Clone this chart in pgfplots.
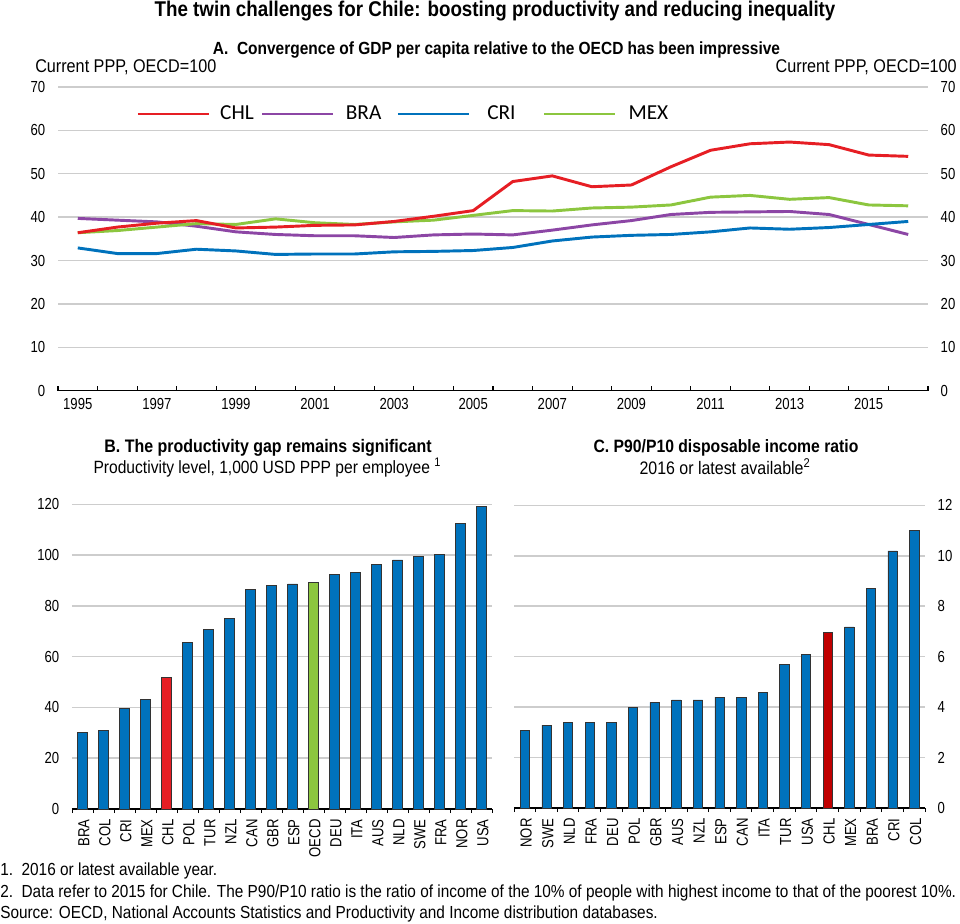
\documentclass[border=0pt]{standalone}
\usepackage{fontspec}
\setmainfont{Liberation Sans}[FakeStretch=0.82]
\newfontfamily\txt{Liberation Sans}[FakeStretch=0.88]
\newfontfamily\legfont{Carlito}
\usepackage{pgfplots}
\pgfplotsset{compat=1.18}
\definecolor{barblue}{RGB}{0,114,188}
\definecolor{chlred}{RGB}{230,30,36}
\definecolor{chldark}{RGB}{192,0,0}
\definecolor{oecdgreen}{RGB}{140,198,63}
\definecolor{brapurple}{RGB}{140,70,165}
\definecolor{gridgray}{RGB}{205,205,205}
\pgfplotsset{
  every axis/.append style={
    /pgf/number format/assume math mode=true,
    scale only axis,
    anchor=south west,
    ticklabel style={font=\fontsize{12}{14}\selectfont},
    grid style={gridgray, line width=1.1pt},
    axis line style={-},
    clip=false,
  },
}
\begin{document}
\begin{tikzpicture}
\useasboundingbox (0,0) rectangle (720pt,-693pt);
% titles
\node[anchor=base, inner sep=0pt, font=\txt\bfseries\fontsize{16}{18}\selectfont] at (371.25pt,-12.75pt) {The twin challenges for Chile: boosting productivity and reducing inequality};
\node[anchor=base, inner sep=0pt, font=\txt\bfseries\fontsize{13.2}{15}\selectfont] at (372.4pt,-41.25pt) {A.\ \ Convergence of GDP per capita relative to the OECD has been impressive};
\node[anchor=base west, inner sep=0pt, font=\txt\fontsize{13.8}{15}\selectfont] at (26.25pt,-54.2pt) {Current PPP, OECD=100};
\node[anchor=base east, inner sep=0pt, font=\txt\fontsize{13.8}{15}\selectfont] at (717.75pt,-54.2pt) {Current PPP, OECD=100};

% Panel A
\begin{axis}[
  at={(43.5pt,-293pt)}, width=652.5pt, height=227.8pt,
  xmin=1995, xmax=2017, ymin=0, ymax=70,
  axis x line*=bottom, axis y line*=left,
  y axis line style={draw=none},
  x axis line style={line width=1pt},
  ytick={0,10,...,70}, ymajorgrids,
  ytick style={draw=none},
  yticklabel style={xshift=-6pt},
  xtick={1995.5,1997.5,1999.5,2001.5,2003.5,2005.5,2007.5,2009.5,2011.5,2013.5,2015.5},
  xticklabels={1995,1997,1999,2001,2003,2005,2007,2009,2011,2013,2015},
  major x tick style={draw=none},
  minor xtick={1995,1996,...,2017},
  minor x tick style={black, line width=0.8pt},
  minor tick length=3.75pt, tick align=inside,
  xticklabel style={yshift=-2pt},
  legend style={draw=none, fill=none, inner sep=0pt, at={(0.0897,0.911)}, anchor=west,
    font=\legfont\fontsize{16}{18}\selectfont,
    nodes={inner sep=0pt},
    /tikz/every odd column/.append style={column sep=7.5pt},
    /tikz/every even column/.append style={column sep=5.25pt}},
  legend columns=4,
  legend image code/.code={\draw[#1] (0pt,0pt) -- (53.25pt,0pt);},
  every axis plot/.append style={line width=2.2pt},
]
\addlegendimage{chlred, line width=2.2pt}
\addlegendentry{CHL}
\addlegendimage{brapurple, line width=2.2pt}
\addlegendentry{\hspace*{0.75pt}BRA\hspace*{6pt}}
\addlegendimage{barblue, line width=2.2pt}
\addlegendentry{\hspace*{5.25pt}CRI\hspace*{15pt}}
\addlegendimage{oecdgreen, line width=2.2pt}
\addlegendentry{\hspace*{1.5pt}MEX}
\addplot[brapurple, forget plot] coordinates {(1995.5,39.7)(1996.5,39.3)(1997.5,38.9)(1998.5,37.9)(1999.5,36.6)(2000.5,36.0)(2001.5,35.7)(2002.5,35.7)(2003.5,35.3)(2004.5,35.9)(2005.5,36.1)(2006.5,35.9)(2007.5,37.0)(2008.5,38.2)(2009.5,39.2)(2010.5,40.6)(2011.5,41.1)(2012.5,41.2)(2013.5,41.3)(2014.5,40.6)(2015.5,38.3)(2016.5,36.0)};
\addplot[barblue, forget plot] coordinates {(1995.5,32.9)(1996.5,31.6)(1997.5,31.6)(1998.5,32.6)(1999.5,32.2)(2000.5,31.4)(2001.5,31.5)(2002.5,31.5)(2003.5,32.0)(2004.5,32.1)(2005.5,32.3)(2006.5,33.0)(2007.5,34.5)(2008.5,35.4)(2009.5,35.8)(2010.5,36.0)(2011.5,36.6)(2012.5,37.5)(2013.5,37.2)(2014.5,37.6)(2015.5,38.3)(2016.5,39.0)};
\addplot[oecdgreen, forget plot] coordinates {(1995.5,36.4)(1996.5,36.9)(1997.5,37.7)(1998.5,38.5)(1999.5,38.3)(2000.5,39.6)(2001.5,38.7)(2002.5,38.3)(2003.5,38.9)(2004.5,39.3)(2005.5,40.4)(2006.5,41.5)(2007.5,41.4)(2008.5,42.1)(2009.5,42.3)(2010.5,42.8)(2011.5,44.6)(2012.5,45.0)(2013.5,44.1)(2014.5,44.5)(2015.5,42.8)(2016.5,42.6)};
\addplot[chlred, forget plot] coordinates {(1995.5,36.4)(1996.5,37.7)(1997.5,38.6)(1998.5,39.2)(1999.5,37.5)(2000.5,37.7)(2001.5,38.1)(2002.5,38.2)(2003.5,39.0)(2004.5,40.2)(2005.5,41.5)(2006.5,48.2)(2007.5,49.5)(2008.5,47.0)(2009.5,47.4)(2010.5,51.6)(2011.5,55.4)(2012.5,56.9)(2013.5,57.3)(2014.5,56.7)(2015.5,54.3)(2016.5,54.0)};
\end{axis}
\begin{axis}[
  at={(43.5pt,-293pt)}, width=652.5pt, height=227.8pt,
  xmin=1995, xmax=2017, ymin=0, ymax=70,
  axis y line*=right, axis x line=none,
  y axis line style={draw=none}, ytick style={draw=none},
  ytick={0,10,...,70}, yticklabel style={xshift=6pt},
]
\addplot[draw=none] coordinates {(1996,0)};
\end{axis}

% Panel B
\node[anchor=base, inner sep=0pt, font=\txt\bfseries\fontsize{13.6}{15}\selectfont] at (201pt,-339pt) {B. The productivity gap remains significant};
\node[anchor=base, inner sep=0pt, font=\txt\fontsize{13.3}{15}\selectfont] at (200.5pt,-355pt) {Productivity level, 1,000 USD PPP per employee \textsuperscript{1}};
\begin{axis}[
  at={(54pt,-606.75pt)}, width=315pt, height=228.5pt,
  xmin=-0.5, xmax=19.5, ymin=0, ymax=120,
  axis x line*=bottom, axis y line*=left,
  y axis line style={draw=none},
  x axis line style={line width=1pt},
  ytick={0,20,...,120}, ymajorgrids, ytick style={draw=none},
  yticklabel style={xshift=-6pt},
  xtick={0,...,19},
  xticklabels={BRA,COL,CRI,MEX,CHL,POL,TUR,NZL,CAN,GBR,ESP,OECD,DEU,ITA,AUS,NLD,SWE,FRA,NOR,USA},
  xticklabel style={rotate=90, anchor=east, xshift=0pt, yshift=-1pt},
  major x tick style={draw=none},
  minor xtick={-0.5,0.5,...,19.5},
  minor x tick style={black, line width=0.7pt},
  minor tick length=3pt, tick align=inside,
  ybar, bar width=7.5pt,
]
\addplot[fill=barblue, draw=black!80, line width=0.4pt, bar shift=0pt] coordinates {(0,30.1)(1,31.0)(2,39.5)(3,43.1)(5,65.6)(6,70.8)(7,75.0)(8,86.4)(9,88.1)(10,88.7)(12,92.3)(13,93.1)(14,96.4)(15,98.1)(16,99.5)(17,100.4)(18,112.4)(19,119.3)};
\addplot[fill=chlred, draw=black!80, line width=0.4pt, bar shift=0pt] coordinates {(4,52.0)};
\addplot[fill=oecdgreen, draw=black!80, line width=0.4pt, bar shift=0pt] coordinates {(11,89.4)};
\end{axis}

% Panel C
\node[anchor=base, inner sep=0pt, font=\txt\bfseries\fontsize{13.4}{15}\selectfont] at (544.5pt,-339pt) {C. P90/P10 disposable income ratio};
\node[anchor=base, inner sep=0pt, font=\txt\fontsize{13.6}{15}\selectfont] at (543.75pt,-355.5pt) {2016 or latest available\textsuperscript{2}};
\begin{axis}[
  at={(385.5pt,-606pt)}, width=308.25pt, height=227pt,
  xmin=-0.5, xmax=18.5, ymin=0, ymax=12,
  axis x line*=bottom, axis y line*=right,
  y axis line style={draw=none},
  x axis line style={line width=1pt},
  ytick={0,2,...,12}, ymajorgrids, ytick style={draw=none},
  yticklabel style={xshift=6pt},
  xtick={0,...,18},
  xticklabels={NOR,SWE,NLD,FRA,DEU,POL,GBR,AUS,NZL,ESP,CAN,ITA,TUR,USA,CHL,MEX,BRA,CRI,COL},
  xticklabel style={rotate=90, anchor=east, yshift=-1pt},
  major x tick style={draw=none},
  minor xtick={-0.5,0.5,...,18.5},
  minor x tick style={black, line width=0.7pt},
  minor tick length=3pt, tick align=inside,
  ybar, bar width=7pt,
]
\addplot[fill=barblue, draw=black!80, line width=0.4pt, bar shift=0pt] coordinates {(0,3.09)(1,3.29)(2,3.40)(3,3.40)(4,3.40)(5,3.99)(6,4.19)(7,4.29)(8,4.29)(9,4.40)(10,4.40)(11,4.59)(12,5.68)(13,6.08)(15,7.18)(16,8.70)(17,10.19)(18,11.0)};
\addplot[fill=chldark, draw=black!80, line width=0.4pt, bar shift=0pt] coordinates {(14,6.98)};
\end{axis}

% Footnotes
\node[anchor=base west, inner sep=0pt, font=\txt\fontsize{13.1}{15}\selectfont] at (0pt,-656.8pt) {1.\ \ 2016 or latest available year.};
\node[anchor=base west, inner sep=0pt, font=\txt\fontsize{13.1}{15}\selectfont] at (0pt,-673pt) {2.\ \ Data refer to 2015 for Chile. The P90/P10 ratio is the ratio of income of the 10\% of people with highest income to that of the poorest 10\%.};
\node[anchor=base west, inner sep=0pt, font=\txt\fontsize{13.1}{15}\selectfont] at (0pt,-688.7pt) {Source: OECD, National Accounts Statistics and Productivity and Income distribution databases.};
\end{tikzpicture}
\end{document}
